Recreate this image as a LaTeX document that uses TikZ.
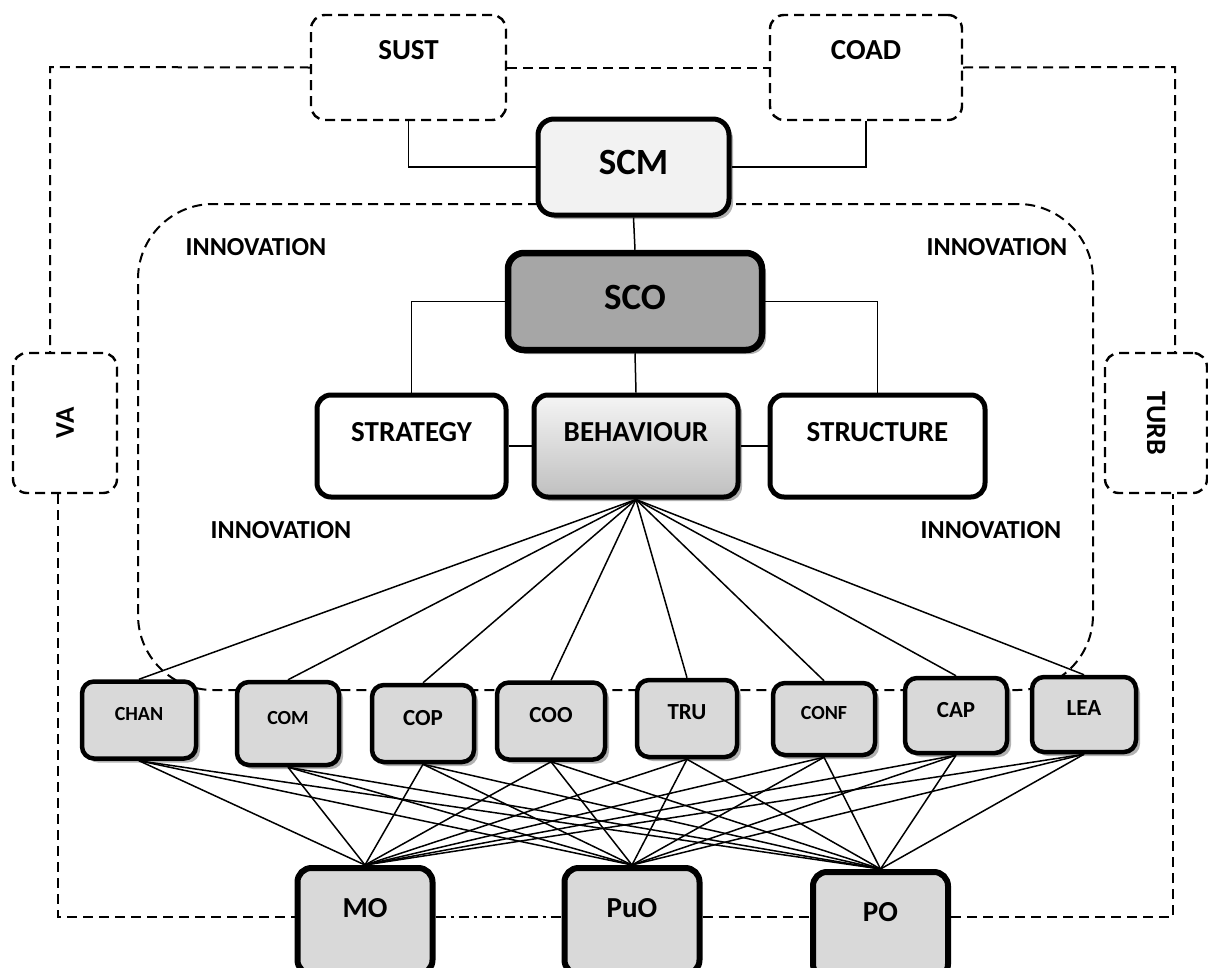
\documentclass[tikz,border=0pt]{standalone}
\usepackage{fontspec}
\usepackage{graphicx}
\setmainfont{Carlito}
\usetikzlibrary{shadows}
\definecolor{Ink}{HTML}{000000}
\definecolor{Pale}{HTML}{F2F2F2}
\definecolor{Steel}{HTML}{A6A6A6}
\definecolor{Tile}{HTML}{D9D9D9}
\tikzset{
  fsize/.style={font=\fontsize{#1}{#1}\selectfont\bfseries},
  softshadow/.style={drop shadow={shadow xshift=4pt, shadow yshift=-4pt, fill=black, opacity=0.3}},
  optbox/.style={
    rounded corners=14pt, draw=Ink, line width=2.4pt, dash pattern=on 10pt off 6pt,
    fill=white, inner sep=0pt, align=center
  },
  corebox/.style={
    rounded corners=16pt, draw=Ink, line width=5pt, inner sep=0pt, softshadow
  },
  dimbox/.style={
    rounded corners=14pt, draw=Ink, line width=5pt, fill=white, inner sep=0pt,
    minimum height=102pt, text height=46pt, text depth=56pt, fsize=29
  },
  factor/.style={
    rounded corners=12pt, draw=Ink, line width=4.5pt, fill=Tile, inner sep=0pt,
    minimum width=102pt, minimum height=77pt, text depth=12pt, softshadow
  },
  orient/.style={
    rounded corners=14pt, draw=Ink, line width=6pt, fill=Tile, inner sep=0pt,
    minimum width=135pt, minimum height=106pt, text depth=26pt, fsize=29
  },
  zone/.style={rounded corners=75pt, draw=Ink, line width=2pt, dash pattern=on 10pt off 6pt},
  note/.style={fsize=26},
  frame/.style={draw=Ink, line width=2pt, dash pattern=on 10pt off 6pt},
  dashdot/.style={draw=Ink, line width=2pt, dash pattern=on 10pt off 5pt on 3pt off 5pt},
  link/.style={draw=Ink, line width=1.5pt}
}

\begin{document}
\begin{tikzpicture}[x=1pt,y=-1pt]
  \useasboundingbox (0,0) rectangle (1208,967);

  % innovation zone
  \node[zone, minimum width=955pt, minimum height=486pt] (innov) at (615.5,447) {};
  \node[note] (innTL) at (256,247) {INNOVATION};
  \node[note] (innTR) at (997,247) {INNOVATION};
  \node[note] (innBL) at (281,530) {INNOVATION};
  \node[note] (innBR) at (991,530) {INNOVATION};

  % outer drivers
  \node[optbox, minimum width=195pt, minimum height=105pt, text depth=35pt, fsize=29] (sust) at (408.5,67.5) {SUST};
  \node[optbox, minimum width=192pt, minimum height=105pt, text depth=35pt, fsize=29] (coad) at (866,67.5) {COAD};
  \node[optbox, minimum width=104pt, minimum height=140pt, fsize=27] (va) at (65,423) {\rotatebox{90}{VA}};
  \node[optbox, minimum width=102pt, minimum height=140pt, fsize=28] (turb) at (1156,423) {\rotatebox{-90}{TURB}};

  % core
  \node[corebox, fill=Pale, minimum width=191pt, minimum height=96pt, text depth=10pt, fsize=37] (scm) at (633.5,167) {SCM};
  \node[corebox, fill=Steel, line width=6.5pt, minimum width=254pt, minimum height=97pt, text depth=9pt, fsize=37] (sco) at (635,301.5) {SCO};
  \node[dimbox, minimum width=189pt] (strategy) at (411.5,446) {STRATEGY};
  \node[dimbox, softshadow, top color=gray!8, bottom color=gray!50, minimum width=204pt] (behaviour) at (636,446) {BEHAVIOUR};
  \node[dimbox, minimum width=215pt] (structure) at (877.5,446) {STRUCTURE};

  % behavioural factors
  \node[factor, minimum width=114pt, fsize=20] (chan) at (139,720) {CHAN};
  \node[factor, minimum height=83pt, fsize=20] (com) at (288,723.5) {COM};
  \node[factor, fsize=23] (cop) at (423,723.5) {COP};
  \node[factor, minimum width=108pt, fsize=23] (coo) at (551,721) {COO};
  \node[factor, minimum width=100pt, fsize=23] (tru) at (687,718.5) {TRU};
  \node[factor, minimum height=72pt, fsize=20] (conf) at (824,719) {CONF};
  \node[factor, minimum height=75pt, fsize=23] (cap) at (956,715.5) {CAP};
  \node[factor, minimum width=104pt, minimum height=75pt, fsize=23] (lea) at (1084,714.5) {LEA};

  % orientations
  \node[orient] (mo) at (365,921) {MO};
  \node[orient] (puo) at (632,921) {PuO};
  \node[orient] (po) at (880.5,925) {PO};

  % hierarchy links
  \draw[link] (sust.south) |- (scm.west);
  \draw[link] (coad.south) |- (scm.east);
  \draw[link] (scm.south) -- (sco.north);
  \draw[link] (sco.west) -| (strategy.north);
  \draw[link] (sco.east) -| (structure.north);
  \draw[link] (sco.south) -- (behaviour.north);
  \draw[link] (strategy.east) -- (behaviour.west);
  \draw[link] (behaviour.east) -- (structure.west);

  \foreach \f in {chan,com,cop,coo,tru,conf,cap,lea}
    \draw[link] (behaviour.south) -- (\f.north);
  \foreach \f in {chan,com,cop,coo,tru,conf,cap,lea}
    \foreach \o in {mo,puo,po}
      \draw[link] (\f.south) -- (\o.north);

  % dashed frame round the model
  \coordinate (tl) at (50,67);
  \coordinate (tr) at (1175,67);
  \coordinate (bl) at (58,917);
  \coordinate (br) at (1173,917);
  \draw[frame] (sust.west) -- (tl) -- (tl |- va.north);
  \draw[frame] (sust.east) -- (coad.west);
  \draw[frame] (coad.east) -- (tr) -- (tr |- turb.north);
  \draw[frame] (va.south -| bl) -- (bl) -- (bl -| mo.west);
  \draw[dashdot] (bl -| mo.east) -- (bl -| puo.west);
  \draw[frame] (bl -| puo.east) -- (bl -| po.west);
  \draw[frame] (bl -| po.east) -- (br) -- (br |- turb.south);
\end{tikzpicture}
\end{document}
